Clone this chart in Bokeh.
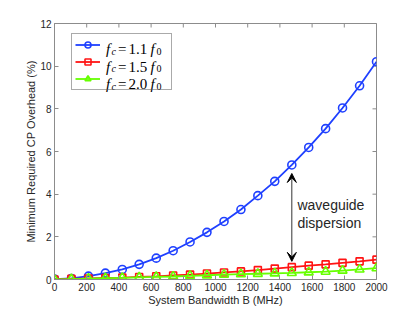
import math
from bokeh.plotting import figure
from bokeh.models import Range1d, FixedTicker, Legend, LegendItem, Label, Arrow, VeeHead
from bokeh.embed import file_html
from bokeh.resources import INLINE

# ---- data ----
bandwidth_mhz = [0, 105, 211, 316, 421, 526, 632, 737, 842, 947,
                 1053, 1158, 1263, 1368, 1474, 1579, 1684, 1789, 1895, 2000]
cp_fc11 = [0.02, 0.05, 0.16, 0.30, 0.47, 0.71, 1.00, 1.35, 1.76, 2.21,
           2.72, 3.28, 3.93, 4.60, 5.37, 6.19, 7.07, 8.04, 9.08, 10.21]
cp_fc15 = [0.00, 0.03, 0.05, 0.07, 0.09, 0.12, 0.15, 0.19, 0.23, 0.28,
           0.33, 0.38, 0.44, 0.51, 0.58, 0.65, 0.71, 0.78, 0.85, 0.93]
cp_fc20 = [0.00, 0.02, 0.04, 0.06, 0.08, 0.10, 0.12, 0.14, 0.17, 0.20,
           0.23, 0.25, 0.27, 0.29, 0.31, 0.34, 0.37, 0.42, 0.47, 0.53]
x_ticks = [0, 200, 400, 600, 800, 1000, 1200, 1400, 1600, 1800, 2000]
y_ticks = [0, 2, 4, 6, 8, 10, 12]
legend_values = ["1.1", "1.5", "2.0"]

X_MAX = 2000
Y_MAX = 12
AXIS_GRAY = "#8c8c8c"
TEXT_GRAY = "#262626"
BLUE = "#1f40ff"
RED = "#ff1414"
GREEN = "#66ff00"

p = figure(width=399, height=308, output_backend="svg", toolbar_location=None,
           x_range=Range1d(0, X_MAX), y_range=Range1d(0, Y_MAX),
           min_border_left=54, min_border_right=23, min_border_top=23, min_border_bottom=0)
p.grid.visible = False
p.outline_line_color = AXIS_GRAY
p.background_fill_color = "white"

p.xaxis.ticker = FixedTicker(ticks=x_ticks)
p.yaxis.ticker = FixedTicker(ticks=y_ticks)
for ax in (p.xaxis[0], p.yaxis[0]):
    ax.axis_line_color = AXIS_GRAY
    ax.major_tick_line_color = AXIS_GRAY
    ax.major_tick_in = 4
    ax.major_tick_out = 0
    ax.minor_tick_line_color = None
    ax.major_label_text_font = "Liberation Sans"
    ax.major_label_text_font_size = "10px"
    ax.major_label_text_color = TEXT_GRAY
    ax.major_label_standoff = 3
    ax.axis_label_text_font = "Liberation Sans"
    ax.axis_label_text_font_size = "11px"
    ax.axis_label_text_font_style = "normal"
    ax.axis_label_text_color = TEXT_GRAY
    ax.axis_label_standoff = 0
p.xaxis.axis_label = "System Bandwidth B (MHz)"
p.yaxis.axis_label = "Minimum Required CP Overhead (%)"

# inward ticks on the top and right edges (half of each dash is clipped by the frame)
p.scatter(x_ticks, [Y_MAX] * len(x_ticks), marker="dash", size=8, angle=math.pi / 2,
          line_color=AXIS_GRAY, line_width=1)
p.scatter([X_MAX] * len(y_ticks), y_ticks, marker="dash", size=8,
          line_color=AXIS_GRAY, line_width=1)

# ---- series ----
l1 = p.line(bandwidth_mhz, cp_fc11, line_color=BLUE, line_width=1.8)
m1 = p.scatter(bandwidth_mhz, cp_fc11, marker="circle", size=8, line_color=BLUE,
               fill_color=None, line_width=1.6)
l2 = p.line(bandwidth_mhz, cp_fc15, line_color=RED, line_width=1.8)
m2 = p.scatter(bandwidth_mhz, cp_fc15, marker="square", size=7, line_color=RED,
               fill_color=None, line_width=1.6)
l3 = p.line(bandwidth_mhz, cp_fc20, line_color=GREEN, line_width=1.8)
m3 = p.scatter(bandwidth_mhz, cp_fc20, marker="triangle", size=9, line_color=GREEN,
               fill_color=None, line_width=1.6)

# ---- legend (glyph samples by Bokeh, math labels overlaid) ----
legend = Legend(items=[LegendItem(label=" ", renderers=[l1, m1]),
                       LegendItem(label=" ", renderers=[l2, m2]),
                       LegendItem(label=" ", renderers=[l3, m3])],
                location=(17, 189), padding=3, spacing=2, margin=0,
                glyph_width=25, glyph_height=15, label_height=15, label_width=61,
                label_standoff=7, label_text_font_size="10px",
                border_line_color="#555555", border_line_width=1,
                background_fill_color="white", background_fill_alpha=0.0)
p.add_layout(legend)

# page-pixel -> data helpers for annotation placement (frame 54..376 x 23..278)
def dx(px):
    return (px - 54) / (376 - 54) * X_MAX

def dy(py):
    return (278 - py) / (278 - 23) * Y_MAX

row_baselines = [48.5, 66.0, 83.5]
serif = "Liberation Serif"

def math_label(px, py, text, size, italic):
    p.add_layout(Label(x=dx(px), y=dy(py), text=text, text_font=serif,
                       text_font_style="italic" if italic else "normal",
                       text_font_size=size, text_color="black",
                       text_baseline="alphabetic", level="overlay"))

for val, base in zip(legend_values, row_baselines):
    math_label(105.5, base, "f", "15px", True)
    math_label(111, base + 2, "c", "10px", True)
    math_label(117.5, base, "=", "15px", False)
    math_label(128, base, val, "15px", False)
    math_label(150, base, "f", "15px", True)
    math_label(156, base + 2.3, "0", "10px", False)

# ---- annotation: waveguide dispersion arrow ----
arrow_x = 1474
arrow_top = 4.97
arrow_bottom = 0.85
p.add_layout(Arrow(x_start=arrow_x, y_start=arrow_bottom, x_end=arrow_x, y_end=arrow_top,
                   start=VeeHead(size=9, fill_color="black", line_color="black"),
                   end=VeeHead(size=9, fill_color="black", line_color="black"),
                   line_color="#333333", line_width=1))
p.add_layout(Label(x=1509, y=3.48, text="waveguide", text_font="Liberation Sans",
                   text_font_size="14px", text_color=TEXT_GRAY, text_baseline="middle"))
p.add_layout(Label(x=1509, y=2.64, text="dispersion", text_font="Liberation Sans",
                   text_font_size="14px", text_color=TEXT_GRAY, text_baseline="middle"))

open("out.html", "w").write(file_html(p, INLINE))
